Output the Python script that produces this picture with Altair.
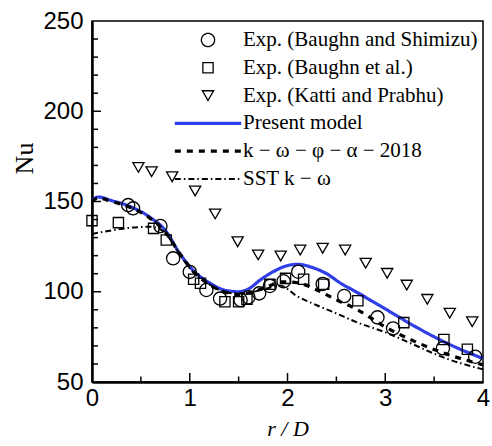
import altair as alt
import pandas as pd

# ---- series names (legend order) ----
names = [
    "Exp. (Baughn and Shimizu)",
    "Exp. (Baughn et al.)",
    "Exp. (Katti and Prabhu)",
    "Present model",
    "k − ω − φ − α − 2018",
    "SST  k − ω",
]

# ---- experimental data ----
circ_x = [0.37, 0.42, 0.70, 0.83, 1.00, 1.17, 1.31, 1.52, 1.60, 1.71, 1.82, 1.96, 2.11, 2.36, 2.58, 2.92, 3.08, 3.59, 3.92]
circ_y = [148.0, 146.2, 136.4, 118.5, 111.0, 101.0, 96.2, 95.4, 97.0, 99.1, 103.2, 105.8, 111.1, 104.3, 97.6, 85.8, 79.7, 68.7, 64.0]

sq_x = [0.00, 0.27, 0.63, 0.76, 1.04, 1.11, 1.36, 1.50, 1.585, 1.82, 1.98, 2.165, 2.37, 2.72, 3.19, 3.60, 3.84]
sq_y = [139.4, 138.3, 135.1, 128.7, 106.9, 104.7, 94.5, 94.5, 95.8, 104.1, 107.4, 106.9, 104.2, 95.0, 82.9, 73.6, 68.1]

tri_x = [0.475, 0.61, 0.82, 1.055, 1.26, 1.49, 1.70, 1.93, 2.13, 2.36, 2.59, 2.80, 3.02, 3.22, 3.43, 3.66, 3.89]
tri_y = [168.9, 166.5, 163.7, 155.8, 143.1, 127.7, 120.4, 119.8, 123.1, 124.1, 123.1, 115.8, 110.2, 103.7, 95.8, 88.1, 83.4]

# ---- model curves ----
present_x = [0, 0.06, 0.2, 0.4, 0.6, 0.75, 0.9, 1.05, 1.2, 1.35, 1.5, 1.6, 1.72, 1.85, 2.0, 2.1, 2.25, 2.4, 2.55, 2.7, 3.0, 3.33, 3.67, 4.0]
present_y = [150, 152.5, 150.5, 147, 141, 134, 121, 111, 105, 101, 100, 101.5, 106.5, 111, 114.5, 115.2, 113.5, 110, 104.5, 100, 90.5, 80, 70.5, 63]

kwpa_x = [0, 0.06, 0.2, 0.4, 0.6, 0.75, 0.9, 1.05, 1.2, 1.35, 1.5, 1.65, 1.8, 1.95, 2.1, 2.3, 2.5, 2.7, 3.0, 3.3, 3.6, 4.0]
kwpa_y = [150, 152, 150, 146.5, 140.5, 133, 121, 110.5, 104, 100, 98.5, 100, 103, 105.5, 105, 101, 95.5, 90.5, 80.5, 72.5, 66, 59.5]

sst_x = [0, 0.2, 0.4, 0.6, 0.7, 0.8, 0.9, 1.05, 1.2, 1.35, 1.5, 1.65, 1.8, 1.92, 2.1, 2.3, 2.5, 2.7, 3.0, 3.3, 3.6, 4.0]
sst_y = [132, 134, 135.5, 136, 134.5, 129, 120.5, 110, 104, 100, 99, 100, 102, 103.5, 97.5, 92.5, 88, 83.3, 77.5, 70.5, 63.5, 57]

# ---- axis ticks ----
x_major = [0, 1, 2, 3, 4]
x_minor = [0.5, 1.5, 2.5, 3.5]
y_major = [50, 100, 150, 200, 250]
y_minor = [60, 70, 80, 90, 110, 120, 130, 140, 160, 170, 180, 190, 210, 220, 230, 240]

W, H = 391, 361

exp_df = pd.concat([
    pd.DataFrame({"x": circ_x, "y": circ_y, "series": names[0]}),
    pd.DataFrame({"x": sq_x, "y": sq_y, "series": names[1]}),
    pd.DataFrame({"x": tri_x, "y": tri_y, "series": names[2]}),
], ignore_index=True)

line_df = pd.concat([
    pd.DataFrame({"x": present_x, "y": present_y, "series": names[3]}),
    pd.DataFrame({"x": kwpa_x, "y": kwpa_y, "series": names[4]}),
    pd.DataFrame({"x": sst_x, "y": sst_y, "series": names[5]}),
], ignore_index=True)

xt_major_df = pd.DataFrame({"v": x_major[1:-1]})
xt_minor_df = pd.DataFrame({"v": x_minor})
yt_major_df = pd.DataFrame({"v": y_major[1:-1]})
yt_minor_df = pd.DataFrame({"v": y_minor})

leg = alt.Legend(
    title=None, orient="none", legendX=81, legendY=9, padding=0,
    clipHeight=20, rowPadding=6.8, labelOffset=0,
    labelFont="Liberation Serif", labelFontSize=21, labelColor="black",
    labelLimit=400,
)

color_sc = alt.Scale(domain=names, range=["black", "black", "black", "#2f3ee6", "black", "black"])
shape_sc = alt.Scale(domain=names, range=["circle", "square", "triangle-down", "stroke", "stroke", "stroke"])
size_sc = alt.Scale(type="ordinal", domain=names, range=[175, 105, 125, 4400, 4400, 4400])
dash_sc = alt.Scale(domain=names, range=[[1, 0], [1, 0], [1, 0], [1, 0], [6, 6], [6, 3, 1.5, 3]])
sw_sc = alt.Scale(type="ordinal", domain=names, range=[1.3, 1.3, 1.3, 3.2, 3.2, 2.0])

xsc = alt.Scale(domain=[0, 4], nice=False, zero=False)
ysc = alt.Scale(domain=[50, 250], nice=False, zero=False)

x_axis = alt.Axis(values=x_major, format="d", ticks=False, grid=False, labelFont="Liberation Sans",
                  labelFontSize=24, labelColor="black", labelPadding=4, labelFlush=False,
                  domainColor="black", domainWidth=2.5,
                  title="r / D", titleFont="Liberation Serif", titleFontStyle="italic",
                  titleFontWeight="normal", titleFontSize=22, titleColor="black",
                  titleBaseline="alphabetic", titleY=53)
y_axis = alt.Axis(values=y_major, format="d", ticks=False, grid=False, labelFont="Liberation Sans",
                  labelFontSize=24, labelColor="black", labelPadding=9, labelFlush=False,
                  domainColor="black", domainWidth=2.5,
                  title="Nu", titleFont="Liberation Serif", titleFontWeight="normal",
                  titleFontSize=26, titleColor="black", titleAngle=270,
                  titleBaseline="alphabetic", titleAlign="center", titleX=-60, titleY=137)

lines = alt.Chart(line_df).mark_line(interpolate="monotone").encode(
    x=alt.X("x:Q", scale=xsc, axis=x_axis),
    y=alt.Y("y:Q", scale=ysc, axis=y_axis),
    color=alt.Color("series:N", scale=color_sc, legend=leg),
    strokeDash=alt.StrokeDash("series:N", scale=dash_sc, legend=leg),
    strokeWidth=alt.StrokeWidth("series:N", scale=sw_sc, legend=leg),
)

points = alt.Chart(exp_df).mark_point(filled=False, opacity=1).encode(
    x=alt.X("x:Q", scale=xsc),
    y=alt.Y("y:Q", scale=ysc),
    color=alt.Color("series:N", scale=color_sc, legend=leg),
    shape=alt.Shape("series:N", scale=shape_sc, legend=leg),
    size=alt.Size("series:N", scale=size_sc, legend=leg),
    strokeWidth=alt.StrokeWidth("series:N", scale=sw_sc, legend=leg),
)

xt_major = alt.Chart(xt_major_df).mark_rule(color="black", strokeWidth=1.5).encode(
    x=alt.X("v:Q", scale=xsc), y=alt.value(H), y2=alt.value(H - 9))
xt_minor = alt.Chart(xt_minor_df).mark_rule(color="black", strokeWidth=1.5).encode(
    x=alt.X("v:Q", scale=xsc), y=alt.value(H), y2=alt.value(H - 5.5))
yt_major = alt.Chart(yt_major_df).mark_rule(color="black", strokeWidth=1.5).encode(
    y=alt.Y("v:Q", scale=ysc), x=alt.value(0), x2=alt.value(9))
yt_minor = alt.Chart(yt_minor_df).mark_rule(color="black", strokeWidth=1.5).encode(
    y=alt.Y("v:Q", scale=ysc), x=alt.value(0), x2=alt.value(6))

chart = alt.layer(lines, points, xt_major, xt_minor, yt_major, yt_minor).properties(
    width=W, height=H,
    padding={"left": 92, "top": 21, "right": 9, "bottom": 64},
    autosize=alt.AutoSizeParams(type="none"),
    background="white",
).configure_view(stroke="black", strokeWidth=1.5)

chart.save("out.html", embed_options={"renderer": "svg", "actions": False})
